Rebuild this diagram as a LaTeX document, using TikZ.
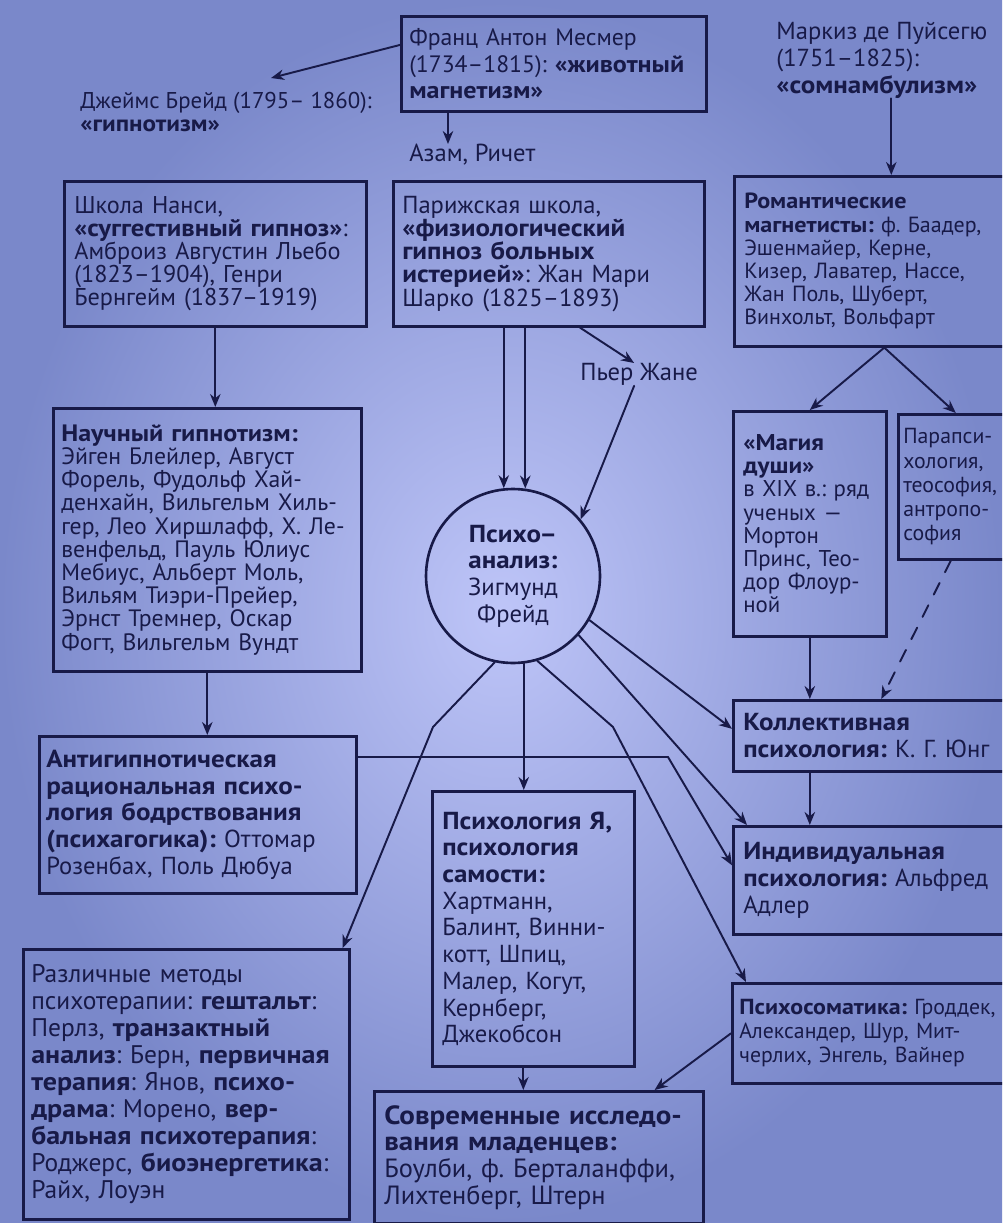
\documentclass[tikz,border=0pt]{standalone}
\usepackage{fontspec}
\setmainfont{PT Sans}[BoldFeatures={FakeStretch=1.1}]
\usetikzlibrary{arrows.meta}
\definecolor{ink}{RGB}{24,26,72}
\definecolor{bgin}{RGB}{190,197,248}
\definecolor{bgout}{RGB}{122,136,202}
\newcommand\fsu{\fontsize{13}{13.2}\selectfont}
\newcommand\fsl{\fontsize{14}{15.2}\selectfont}
\frenchspacing

\begin{document}
\begin{tikzpicture}[x=0.02cm,y=-0.02cm,>={Stealth[length=2.6mm,width=2.1mm]},line cap=round,
  box/.style={draw=ink,line width=1.5pt,anchor=north west,align=left,inner xsep=0.2cm,inner ysep=0.1cm,text=ink,font=\fsu},
  txt/.style={anchor=north west,align=left,inner sep=0pt,text=ink,font=\fsu},
  link/.style={ink,line width=1.1pt,->}]
\useasboundingbox (0,0) rectangle (1002,1223);
\shade[inner color=bgin,outer color=bgout] (0,0) rectangle (1002,1223);
\clip (0,0) rectangle (1002,1223);

\node[box,font=\fontsize{13.5}{15.2}\selectfont,inner xsep=0.16cm,text width=5.78cm,minimum height=1.9cm] (mesmer) at (400,15) {Франц Антон Месмер\\(1734–1815): \textbf{«животный}\\\textbf{магнетизм»}};
\node[txt] (braid) at (80,92) {Джеймс Брейд (1795– 1860):\\\textbf{«гипнотизм»}};
\node[txt,font=\fsl] (puys) at (776,22) {Маркиз де Пуйсегю\\(1751–1825):\\\textbf{«сомнамбулизм»}};
\node[txt,font=\fsl] (azam) at (409,144) {Азам, Ричет};

\node[box,font=\fontsize{13.8}{13}\selectfont,text width=5.64cm,minimum height=2.9cm] (nancy) at (63,180) {Школа Нанси,\\\textbf{«суггестивный гипноз»}:\\Амброиз Августин Льебо\\(1823–1904), Генри\\Бернгейм (1837–1919)};
\node[box,font=\fontsize{14}{13.2}\selectfont,inner xsep=0.18cm,text width=5.86cm,minimum height=2.9cm] (paris) at (392,180) {Парижская школа,\\\textbf{«физиологический}\\\textbf{гипноз больных}\\\textbf{истерией»}: Жан Мари\\Шарко (1825–1893)};
\node[box,font=\fontsize{12.5}{13.2}\selectfont,text width=5.4cm,minimum height=3.4cm] (romantic) at (733,175) {\textbf{Романтические}\\\textbf{магнетисты:} ф. Баадер,\\Эшенмайер, Керне,\\Кизер, Лаватер, Нассе,\\Жан Поль, Шуберт,\\Винхольт, Вольфарт};
\node[txt,font=\fsl] (janet) at (580,363) {Пьер Жане};

\node[box,font=\fontsize{13.5}{13.2}\selectfont,inner xsep=0.16cm,text width=5.84cm,minimum height=5.26cm] (science) at (52,407) {\textbf{Научный гипнотизм:}\\Эйген Блейлер, Август\\Форель, Фудольф Хай-\\денхайн, Вильгельм Хиль-\\гер, Лео Хиршлафф, Х. Ле-\\венфельд, Пауль Юлиус\\Мебиус, Альберт Моль,\\Вильям Тиэри-Прейер,\\Эрнст Тремнер, Оскар\\Фогт, Вильгельм Вундт};
\node[circle,draw=ink,line width=1.5pt,minimum size=3.48cm,inner sep=0pt,align=center,text=ink,font=\fsl] (freud) at (513,576) {\textbf{Психо\kern-1pt–}\\\textbf{анализ:}\\Зигмунд\\Фрейд};
\node[box,text width=2.66cm,minimum height=4.5cm] (magic) at (732,410) {\textbf{«Магия}\\\textbf{души»}\\в XIX в.: ряд\\ученых —\\Мортон\\Принс, Тео-\\дор Флоур-\\ной};
\node[box,font=\fontsize{12.4}{13.8}\selectfont,inner xsep=0.1cm,text width=2.1cm,minimum height=2.9cm] (para) at (897,413) {Парапси-\\хология,\\теософия,\\антропо-\\софия};

\node[box,font=\fsl,text width=5.04cm,minimum height=1.42cm] (collective) at (732,699) {\textbf{Коллективная}\\\textbf{психология:} К. Г. Юнг};
\node[box,font=\fsl,inner xsep=0.14cm,text width=6.06cm,minimum height=3.14cm] (anti) at (38,735) {\textbf{Антигипнотическая}\\\textbf{рациональная психо-}\\\textbf{логия бодрствования}\\\textbf{(психагогика):} Оттомар\\Розенбах, Поль Дюбуа};
\node[box,font=\fsl,text width=3.64cm,minimum height=5.5cm] (ego) at (431,790) {\textbf{Психология Я,}\\\textbf{психология}\\\textbf{самости:}\\Хартманн,\\Балинт, Винни-\\котт, Шпиц,\\Малер, Когут,\\Кернберг,\\Джекобсон};
\node[box,font=\fsl,text width=5.04cm,minimum height=2.16cm] (individ) at (732,825) {\textbf{Индивидуальная}\\\textbf{психология:} Альфред\\Адлер};
\node[box,font=\fontsize{14.5}{15.4}\selectfont,inner xsep=0.16cm,text width=6.2cm,minimum height=5.4cm] (methods) at (22,948) {Различные методы\\психотерапии: \textbf{гештальт}:\\Перлз, \textbf{транзактный}\\\textbf{анализ}: Берн, \textbf{первичная}\\\textbf{терапия}: Янов, \textbf{психо-}\\\textbf{драма}: Морено, \textbf{вер-}\\\textbf{бальная психотерапия}:\\Роджерс, \textbf{биоэнергетика}:\\Райх, Лоуэн};
\node[box,font=\fontsize{12.4}{13.6}\selectfont,inner xsep=0.14cm,text width=5.52cm,minimum height=2cm] (psychosom) at (731,982) {\textbf{Психосоматика:} Гроддек,\\Александер, Шур, Мит-\\черлих, Энгель, Вайнер};
\node[box,font=\fontsize{15}{15.2}\selectfont,text width=6.18cm,minimum height=2.64cm] (infant) at (373,1090) {\textbf{Современные исследо-}\\\textbf{вания младенцев:}\\Боулби, ф. Берталанффи,\\Лихтенберг, Штерн};

\coordinate (k1) at (433,727);
\coordinate (k2) at (613,727);
\coordinate (k3) at (668,757);

\draw[link] (mesmer.173) -- ([xshift=0.9cm,yshift=0.28cm]braid.north);
\draw[link] ([xshift=0.96cm]mesmer.south west) -- ([xshift=0.96cm]mesmer.south west |- azam.north);
\draw[link] ([xshift=0.24cm]romantic.north |- puys.south) -- ([xshift=0.24cm]romantic.north);
\draw[link] (nancy.south) -- (nancy.south |- science.north);
\draw[link] (freud.96 |- paris.south) -- (freud.96);
\draw[link] (freud.82 |- paris.south) -- (freud.82);
\draw[link] ([xshift=3.76cm]paris.south west) -- ([xshift=-0.1cm]janet.north);
\draw[link] ([xshift=-0.1cm]janet.south) -- (freud.40);
\draw[link] ([xshift=0.1cm]romantic.south) -- (magic.north);
\draw[link] ([xshift=0.1cm]romantic.south) -- (para.north);
\draw[link] (magic.south) -- (magic.south |- collective.north);
\draw[link,dash pattern={on 2.6mm off 2.4mm}] ([xshift=-0.1cm]para.south) -- ([xshift=0.24cm]collective.north);
\draw[link] (freud.-30) -- ([yshift=0.14cm]collective.west);
\draw[link] (freud.-42) -- ([xshift=0.3cm]individ.north west);
\draw[link] (collective.south -| magic.south) -- (magic.south |- individ.north);
\draw[link] (science.south) -- (science.south |- anti.north);
\draw[link] (freud.258) -- (k1) -- ([xshift=-0.16cm]methods.north east);
\draw[link] (freud.-83) -- (freud.-83 |- ego.north);
\draw[link] (freud.-74) -- (k2) -- ([xshift=0.3cm]psychosom.north west);
\draw[link] (anti.east |- k3) -- (k3) -- ([yshift=0.3cm]individ.west);
\draw[link] ([xshift=-0.2cm]ego.south) -- ([xshift=-0.2cm]ego.south |- infant.north);
\draw[link] (psychosom.west) -- ([xshift=-1cm]infant.north east);
\end{tikzpicture}
\end{document}
